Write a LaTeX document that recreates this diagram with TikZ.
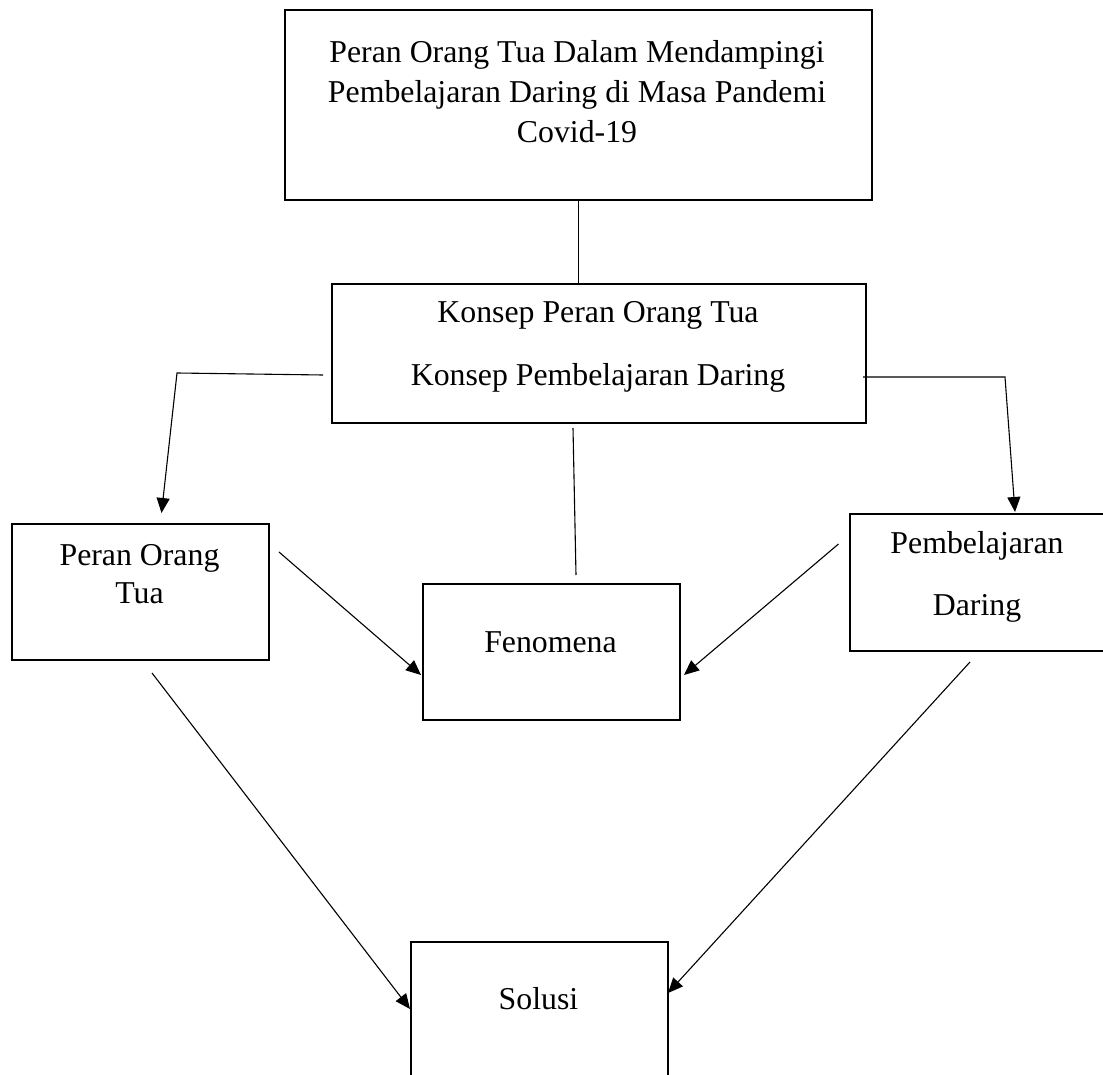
\documentclass[tikz,border=0pt]{standalone}
\usepackage{fontspec}
\setmainfont{Liberation Serif}
\usetikzlibrary{arrows.meta}
\tikzset{
  box/.style={draw, line width=2.2pt, inner sep=0pt, anchor=north west},
  txt/.style={anchor=base, inner sep=0pt, font=\fontsize{31.8}{38}\selectfont},
  conn/.style={line width=1.1pt},
  arr/.style={conn, -{Triangle[length=15pt,width=13pt]}}
}
\begin{document}
\begin{tikzpicture}[x=1pt,y=-1pt]
\useasboundingbox (0,0) rectangle (1103,1075);
\fill[white] (0,0) rectangle (1103,1075);
\clip (0,0) rectangle (1103,1075);

% boxes
\node[box, minimum width=587.5pt, minimum height=190pt] (top) at (283.5,9) {};
\node[box, minimum width=534pt, minimum height=139pt] (konsep) at (331,283) {};
\node[box, minimum width=257.3pt, minimum height=136pt] (peran) at (10.7,523) {};
\node[box, minimum width=257pt, minimum height=136pt] (fen) at (422,583) {};
\node[box, minimum width=270pt, minimum height=137pt] (pemb) at (849,513) {};
\node[box, minimum width=257pt, minimum height=150pt] (sol) at (410,941) {};

% texts
\node[txt] (top1) at (577,63) {Peran Orang Tua Dalam Mendampingi};
\node[txt] (top2) at (577,103) {Pembelajaran Daring di Masa Pandemi};
\node[txt] (top3) at (577,143) {Covid-19};
\node[txt] (kon1) at (598,323) {Konsep Peran Orang Tua};
\node[txt] (kon2) at (598,385) {Konsep Pembelajaran Daring};
\node[txt] (per1) at (139.5,565) {Peran Orang};
\node[txt] (per2) at (139.5,603) {Tua};
\node[txt] (pem1) at (977,553) {Pembelajaran};
\node[txt] (pem2) at (977,615) {Daring};
\node[txt] (fen1) at (550.5,652) {Fenomena};
\node[txt] (sol1) at (538.5,1009) {Solusi};

% connector end points
\coordinate (kL) at (323,375);
\coordinate (kLc) at (177,373);
\coordinate (perT) at (161.5,513);
\coordinate (kR) at (863,377);
\coordinate (kRc) at (1005,377);
\coordinate (pemT) at (1015,512);
\coordinate (kB) at (573,428);
\coordinate (fenT) at (576,575);
\coordinate (perR) at (279,552);
\coordinate (fenL) at (421,675);
\coordinate (pemL) at (838.5,544);
\coordinate (fenR) at (684,675);
\coordinate (perB) at (152,673);
\coordinate (solL) at (410,1009);
\coordinate (pemB) at (970,662);
\coordinate (solR) at (668,993);

% connectors
\draw[conn] (top.south) -- (top.south |- konsep.north);
\draw[arr] (kL) -- (kLc) -- (perT);
\draw[arr] (kR) -- (kRc) -- (pemT);
\draw[conn] (kB) -- (fenT);
\draw[arr] (perR) -- (fenL);
\draw[arr] (pemL) -- (fenR);
\draw[arr] (perB) -- (solL);
\draw[arr] (pemB) -- (solR);
\end{tikzpicture}
\end{document}
